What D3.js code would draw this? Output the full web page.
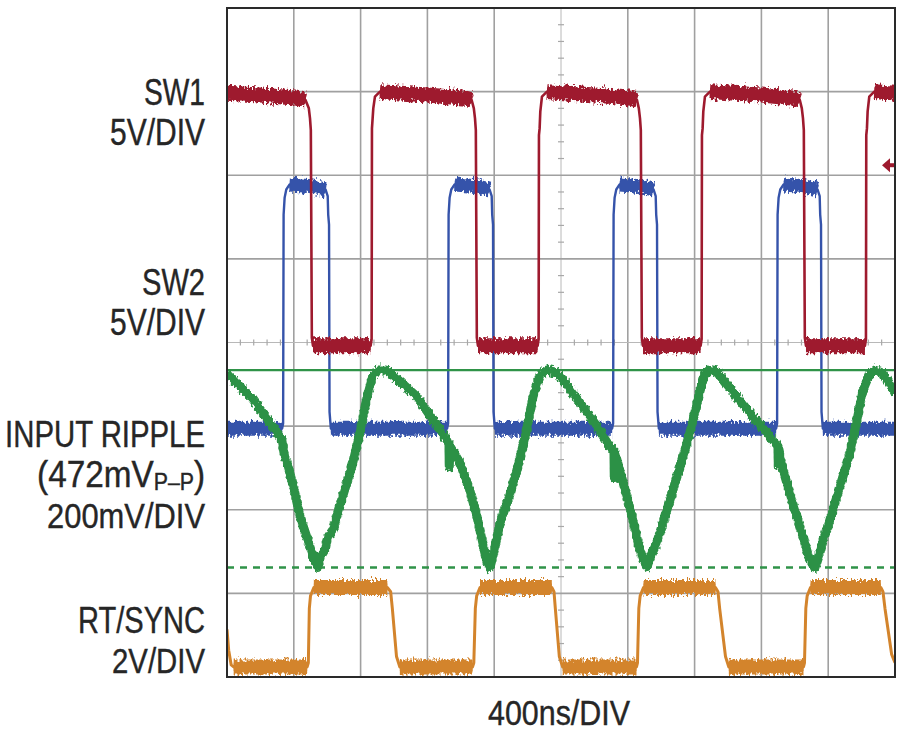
<!DOCTYPE html>
<html>
<head>
<meta charset="utf-8">
<script src="https://cdn.jsdelivr.net/npm/d3@7"></script>
<style>
  body { margin: 0; background: #fff; }
  text { font-family: "Liberation Sans Narrow", "Arial Narrow", "Liberation Sans", sans-serif; fill: #262626; stroke: #262626; stroke-width: 0.4; }
</style>
</head>
<body>
<svg id="chart" width="900" height="731"></svg>
<script>
// ---- scope data: [time ns, value] ----
// SW1, volts
var sw1 = [[0,15.1],[200,15.0],[420,14.8],[470,14.7],[490,14.2],[497,13.6],[502,12.9],[508,0.5],[515,0],
  [860,0],[866,0.4],[868,13.0],[872,13.6],[876,14.2],[886,14.9],[916,15.2],
  [1200,15.0],[1430,14.8],[1465,14.7],[1478,14.2],[1485,13.6],[1490,12.9],[1496,0.5],[1503,0],
  [1860,0],[1866,0.4],[1868,12.6],[1872,13.0],[1876,14.0],[1886,14.9],[1916,15.2],
  [2200,15.0],[2420,14.8],[2455,14.7],[2466,14.2],[2473,13.6],[2478,12.9],[2484,0.5],[2491,0],
  [2836,0],[2842,0.4],[2844,12.6],[2848,13.0],[2852,14.0],[2862,14.9],[2892,15.2],
  [3200,15.0],[3400,14.8],[3430,14.7],[3442,14.2],[3449,13.6],[3454,12.9],[3460,0.5],[3467,0],
  [3820,0],[3826,0.4],[3828,12.6],[3832,13.0],[3836,14.0],[3846,14.9],[3876,15.2],[4000,15.1]];

// SW2, volts
var sw2 = [[0,0],[330,0],[336,0.3],[339,12.8],[345,13.8],[355,14.3],[375,14.6],[500,14.5],[590,14.3],[603,13.9],[606,12.8],[611,12.2],[614,1.0],[622,0],
  [1318,0],[1324,0.3],[1327,12.8],[1333,13.8],[1343,14.3],[1363,14.6],[1490,14.5],[1572,14.3],[1585,13.9],[1588,12.8],[1593,12.2],[1596,1.0],[1604,0],
  [2306,0],[2312,0.3],[2315,12.8],[2321,13.8],[2331,14.3],[2351,14.6],[2470,14.5],[2554,14.3],[2567,13.9],[2570,12.8],[2575,12.2],[2578,1.0],[2586,0],
  [3288,0],[3294,0.3],[3297,12.8],[3303,13.8],[3313,14.3],[3333,14.6],[3450,14.5],[3536,14.3],[3549,13.9],[3552,12.8],[3557,12.2],[3560,1.0],[3568,0],
  [4000,0]];

// input ripple, mV above its minimum
var ripple = [[0,465],[60,440],[150,405],[250,350],[329,305],[345,265],[360,250],[400,190],[437,122],[480,70],[515,26],[545,0],
  [560,25],[590,45],[600,70],[635,91],[700,180],[754,250],[800,330],[838,408],[870,455],[904,472],[950,472],[976,465],
  [1050,440],[1138,408],[1230,355],[1317,305],[1329,295],[1331,240],[1335,290],[1395,250],[1450,190],[1497,122],[1530,60],[1557,12],[1575,0],
  [1600,40],[1635,107],[1690,170],[1737,234],[1790,320],[1832,408],[1875,460],[1916,472],[1960,468],
  [2000,455],[2132,384],[2220,335],[2293,288],[2317,280],[2319,215],[2323,275],[2395,169],[2430,115],[2461,60],[2490,20],[2515,2],
  [2540,30],[2570,55],[2611,107],[2670,185],[2731,265],[2790,350],[2832,424],[2860,460],[2880,472],[2930,468],
  [2970,450],[3054,408],[3160,355],[3269,305],[3299,290],[3301,245],[3305,280],[3329,234],[3390,150],[3449,74],[3480,30],[3503,12],[3521,0],
  [3545,30],[3565,60],[3593,91],[3660,180],[3731,274],[3770,350],[3808,424],[3845,460],[3880,472],[3920,466],
  [3960,445],[4000,417]];
var rippleMax = 472;   // top reference line
var rippleMin = 0;     // dashed reference line

// RT/SYNC, volts
var rtsync = [[0,0.9],[10,0.4],[25,0.05],[40,0],
  [480,0],[487,0.1],[493,1.4],[500,1.7],[520,1.9],[960,1.9],[980,1.8],[990,1.4],[1015,0.25],[1035,0],
  [1470,0],[1478,0.1],[1487,1.4],[1495,1.7],[1515,1.9],[1945,1.9],[1958,1.8],[1966,1.4],[1990,0.25],[2010,0],
  [2452,0],[2458,0.1],[2466,1.4],[2474,1.7],[2494,1.9],[2925,1.9],[2940,1.8],[2950,1.4],[2985,0.25],[3005,0],
  [3452,0],[3458,0.1],[3466,1.4],[3474,1.7],[3494,1.9],[3915,1.9],[3928,1.8],[3940,1.4],[3980,0.3],[4000,0.1]];

var sw1Trigger = 10.8;  // trigger marker level, volts

var labelLines = [["SW1", "5V/DIV"], ["SW2", "5V/DIV"], ["INPUT RIPPLE", "(472mV", "200mV/DIV"], ["RT/SYNC", "2V/DIV"]];
var xLabel = "400ns/DIV";

// ---- layout ----
var X0 = 227, X1 = 895, Y0 = 8, Y1 = 677;
var svg = d3.select("#chart");

var x = d3.scaleLinear().domain([0, 4000]).range([X0, X1]);
var yDiv = d3.scaleLinear().domain([-4, 4]).range([Y1, Y0]);

// channel: offset of its zero in divisions, units per division
function chan(offset, perDiv) {
  return function (v) { return yDiv(offset + v / perDiv); };
}
var ySW1 = chan(-0.04, 5), ySW2 = chan(-1.03, 5), yRip = chan(-2.69, 200), yRT = chan(-3.88, 2);

var defs = svg.append("defs");
defs.append("clipPath").attr("id", "plotclip")
  .append("rect").attr("x", X0).attr("y", Y0).attr("width", X1 - X0).attr("height", Y1 - Y0);

var f = defs.append("filter").attr("id", "fuzz")
  .attr("filterUnits", "userSpaceOnUse").attr("x", 0).attr("y", 0).attr("width", 900).attr("height", 731)
  .attr("color-interpolation-filters", "sRGB");
f.append("feTurbulence").attr("type", "fractalNoise").attr("baseFrequency", "0.45 0.25")
  .attr("numOctaves", 2).attr("seed", 7).attr("result", "n");
f.append("feColorMatrix").attr("in", "n").attr("type", "matrix")
  .attr("values", "0 0 0 0 0.5  0 1 0 0 0  0 0 1 0 0  0 0 0 0 1").attr("result", "m");
f.append("feDisplacementMap").attr("in", "SourceGraphic").attr("in2", "m").attr("scale", 10)
  .attr("xChannelSelector", "R").attr("yChannelSelector", "G");

// ---- graticule ----
var grid = svg.append("g");
grid.selectAll("line.v").data(d3.range(1, 10)).join("line")
  .attr("x1", function (d) { return X0 + d * (X1 - X0) / 10; })
  .attr("x2", function (d) { return X0 + d * (X1 - X0) / 10; })
  .attr("y1", Y0).attr("y2", Y1)
  .attr("stroke", function (d) { return d === 5 ? "#b8b8b8" : "#a0a0a0"; })
  .attr("stroke-width", function (d) { return d === 5 ? 1 : 1.6; });
grid.selectAll("line.h").data(d3.range(-3, 4)).join("line")
  .attr("y1", function (d) { return yDiv(d); }).attr("y2", function (d) { return yDiv(d); })
  .attr("x1", X0).attr("x2", X1)
  .attr("stroke", function (d) { return d === 0 ? "#b8b8b8" : "#a0a0a0"; })
  .attr("stroke-width", function (d) { return d === 0 ? 1 : 1.6; });

// minor ticks on the centre lines
var xc = X0 + 5 * (X1 - X0) / 10, yc = yDiv(0);
grid.selectAll("line.tx").data(d3.range(1, 50).filter(function (i) { return i % 5; })).join("line")
  .attr("x1", function (i) { return X0 + i * (X1 - X0) / 50; })
  .attr("x2", function (i) { return X0 + i * (X1 - X0) / 50; })
  .attr("y1", yc - 3).attr("y2", yc + 3).attr("stroke", "#a8a8a8").attr("stroke-width", 1.2);
grid.selectAll("line.ty").data(d3.range(1, 40).filter(function (i) { return i % 5; })).join("line")
  .attr("y1", function (i) { return Y0 + i * (Y1 - Y0) / 40; })
  .attr("y2", function (i) { return Y0 + i * (Y1 - Y0) / 40; })
  .attr("x1", xc - 3).attr("x2", xc + 3).attr("stroke", "#a8a8a8").attr("stroke-width", 1.2);

// ---- traces ----
var traces = svg.append("g").attr("clip-path", "url(#plotclip)");

function flatRuns(px) {
  var runs = [], cur = null;
  for (var i = 1; i < px.length; i++) {
    var dx = px[i][0] - px[i - 1][0], dy = px[i][1] - px[i - 1][1];
    if (Math.abs(dy) <= 0.8 * Math.abs(dx)) {
      if (!cur) { cur = [px[i - 1]]; runs.push(cur); }
      cur.push(px[i]);
    } else cur = null;
  }
  return runs;
}

function drawTrace(data, yf, color, thin, band) {
  var px = data.map(function (d) { return [x(d[0]), yf(d[1])]; });
  var runs = flatRuns(px);
  var g = traces.append("g");
  g.append("path").attr("d", d3.line()(px))
    .attr("fill", "none").attr("stroke", color).attr("stroke-width", thin)
    .attr("stroke-linejoin", "round");
  // solid core of the noise band
  g.append("g").selectAll("path").data(runs).join("path")
    .attr("d", d3.line())
    .attr("fill", "none").attr("stroke", color).attr("stroke-width", band * 0.55)
    .attr("stroke-linejoin", "round");
  // ragged outer part
  g.append("g").attr("filter", "url(#fuzz)")
    .selectAll("path").data(runs).join("path")
    .attr("d", d3.line())
    .attr("fill", "none").attr("stroke", color).attr("stroke-width", band)
    .attr("stroke-linejoin", "round").attr("stroke-linecap", "butt");
}

drawTrace(rtsync, yRT, "#d3842c", 3, 15);
drawTrace(sw2, ySW2, "#3553aa", 2.4, 14);
drawTrace(sw1, ySW1, "#9e1a2e", 2.6, 15);

// ripple reference lines
traces.append("line").attr("x1", X0).attr("x2", X1)
  .attr("y1", yRip(rippleMax)).attr("y2", yRip(rippleMax))
  .attr("stroke", "#2f9348").attr("stroke-width", 2.2);
traces.append("line").attr("x1", X0).attr("x2", X1)
  .attr("y1", yRip(rippleMin)).attr("y2", yRip(rippleMin))
  .attr("stroke", "#2f9348").attr("stroke-width", 2.6).attr("stroke-dasharray", "7,6");

var ripLine = d3.line().x(function (d) { return x(d[0]); }).y(function (d) { return yRip(d[1]); });
traces.append("path").attr("d", ripLine(ripple))
  .attr("fill", "none").attr("stroke", "#2c9146").attr("stroke-width", 5)
  .attr("stroke-linejoin", "round");
traces.append("path").attr("d", ripLine(ripple))
  .attr("fill", "none").attr("stroke", "#2c9146").attr("stroke-width", 9)
  .attr("stroke-linejoin", "round").attr("filter", "url(#fuzz)");

// trigger marker
var ty = ySW1(sw1Trigger);
svg.append("path")
  .attr("d", "M" + (X1 - 13) + "," + ty + "L" + (X1 - 5) + "," + (ty - 7) + "L" + (X1 - 5) + "," + (ty + 7) + "Z")
  .attr("fill", "#9e1a2e");
svg.append("line").attr("x1", X1 - 6).attr("x2", X1 - 1).attr("y1", ty).attr("y2", ty)
  .attr("stroke", "#9e1a2e").attr("stroke-width", 4);

// border
svg.append("rect").attr("x", X0).attr("y", Y0).attr("width", X1 - X0).attr("height", Y1 - Y0)
  .attr("fill", "none").attr("stroke", "#2a2a2a").attr("stroke-width", 2);

// ---- labels ----
// narrow face is not installed, so squeeze each line to the width seen in the reference
function squeeze(t, ax, ay, w) {
  var n = t.node().getComputedTextLength();
  t.attr("transform", "translate(" + ax + "," + ay + ") scale(" + (w / n) + ",1)");
}
var labelBase = [[105, 145], [295, 335], [447, 487, 528], [633, 673]];
var labelWidth = [[61, 95], [63, 95], [200, 168, 158], [127, 93]];
var labels = svg.append("g").attr("font-size", 36).attr("text-anchor", "end");
labelLines.forEach(function (lines, k) {
  lines.forEach(function (s, j) {
    var t = labels.append("text").attr("x", 0).attr("y", 0);
    if (s === "(472mV") {
      t.append("tspan").text(s);
      t.append("tspan").attr("font-size", 23).attr("dy", 3).text("P\u2013P");
      t.append("tspan").attr("dy", -3).text(")");
    } else t.text(s);
    squeeze(t, 205, labelBase[k][j], labelWidth[k][j]);
  });
});
var xl = svg.append("text").attr("x", 0).attr("y", 0).attr("font-size", 35)
  .attr("text-anchor", "middle").text(xLabel);
squeeze(xl, 559, 725, 142);
</script>
</body>
</html>
